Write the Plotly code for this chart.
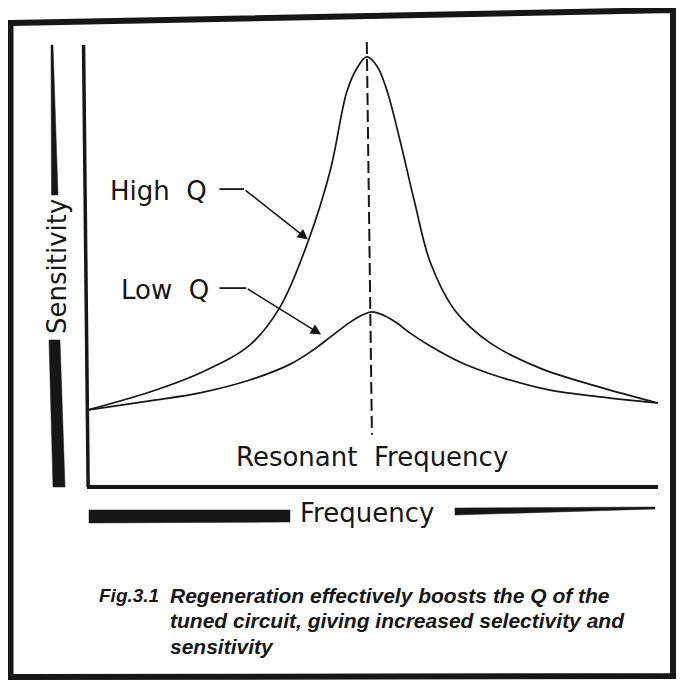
import plotly.graph_objects as go

# ---- data (frequency in arbitrary units 0-100, sensitivity 0-100) ----
high_q_freq = [0, 11.0, 19.8, 28.5, 33.8, 38.7, 42.6, 45.5, 47.3, 49.0, 50.8, 52.5,
               54.8, 57.4, 60.1, 64.4, 70.6, 79.3, 89.8, 100]
high_q_sens = [17.4, 21.5, 25.8, 32.1, 40.7, 55.5, 71.6, 89.4, 94.8, 97.3, 95.2, 89.8,
               78.5, 64.3, 50.9, 40.0, 32.6, 26.9, 22.6, 19.0]

low_q_freq = [0, 11.0, 19.8, 28.5, 35.6, 39.6, 42.6, 46.1, 48.2, 49.9, 52.2, 54.3,
              56.6, 60.1, 65.3, 72.3, 81.1, 89.8, 100]
low_q_sens = [17.4, 19.5, 21.3, 24.2, 27.8, 31.0, 33.9, 37.3, 38.9, 39.6, 38.7, 37.1,
              34.8, 31.9, 28.3, 24.9, 21.9, 20.4, 19.0]

resonant_freq = [49.0, 49.9]      # dashed marker (top, bottom) - scan slightly tilted
resonant_span = [100.7, 11.8]

# page body has an 8px margin; the visible figure area is 668 x 675
OFF = 8
W, H = 668, 675
INK = "#161616"
FONT = "DejaVu Sans"

# screen-pixel scale of the data axes
X0PX, XSCALE = 87, 5.71
Y0PX, YSCALE = 487, 4.42


def px(x):
    return (x - OFF) / W


def py(y):
    return 1 - (y - OFF) / H


fig = go.Figure()

fig.add_trace(go.Scatter(x=high_q_freq, y=high_q_sens, mode="lines",
                         line=dict(color=INK, width=1.7, shape="spline", smoothing=1.0),
                         hoverinfo="skip", showlegend=False))
fig.add_trace(go.Scatter(x=low_q_freq, y=low_q_sens, mode="lines",
                         line=dict(color=INK, width=1.7, shape="spline", smoothing=1.0),
                         hoverinfo="skip", showlegend=False))

shapes = []
# axes
shapes.append(dict(type="line", xref="x", yref="y", x0=0, y0=0, x1=100, y1=0,
                   line=dict(color=INK, width=4)))
shapes.append(dict(type="line", xref="x", yref="y", x0=-0.6, y0=100, x1=0.2, y1=0,
                   line=dict(color=INK, width=3.5)))
# resonant frequency dashed line
shapes.append(dict(type="line", xref="x", yref="y",
                   x0=resonant_freq[0], y0=resonant_span[0],
                   x1=resonant_freq[1], y1=resonant_span[1],
                   line=dict(color=INK, width=2, dash="12px,5px")))
# arrow stubs
shapes.append(dict(type="line", xref="x", yref="y", x0=23.2, y0=67.4, x1=27.5, y1=67.4,
                   line=dict(color=INK, width=1.8)))
shapes.append(dict(type="line", xref="x", yref="y", x0=23.2, y0=45.0, x1=27.9, y1=45.0,
                   line=dict(color=INK, width=1.8)))


def poly(pts, close=True):
    s = "M " + " L ".join(f"{px(a):.5f},{py(b):.5f}" for a, b in pts)
    return s + (" Z" if close else "")


# outer frame
shapes.append(dict(type="path", xref="paper", yref="paper",
                   path=poly([(10.5, 23), (673, 10), (673, 676), (10.5, 677)]),
                   line=dict(color=INK, width=6)))
# Frequency label bars
shapes.append(dict(type="path", xref="paper", yref="paper",
                   path=poly([(89, 510), (290, 510), (290, 522), (89, 523)]),
                   fillcolor=INK, line=dict(color=INK, width=0.5)))
shapes.append(dict(type="path", xref="paper", yref="paper",
                   path=poly([(455, 508), (655, 507), (655, 509), (455, 515)]),
                   fillcolor=INK, line=dict(color=INK, width=0.5)))
# Sensitivity label bars
shapes.append(dict(type="path", xref="paper", yref="paper",
                   path=poly([(51, 45), (53, 45), (58, 195), (51.5, 195)]),
                   fillcolor=INK, line=dict(color=INK, width=0.5)))
shapes.append(dict(type="path", xref="paper", yref="paper",
                   path=poly([(49, 340), (60, 340), (65, 487), (53, 487)]),
                   fillcolor=INK, line=dict(color=INK, width=0.5)))

ann = []
lab = dict(family=FONT, size=26, color=INK)


def label(text, x, y, **kw):
    d = dict(text=text, x=px(x), y=py(y), xref="paper", yref="paper",
             xanchor="center", yanchor="middle", showarrow=False, font=lab)
    d.update(kw)
    ann.append(d)


label("High  Q", 158, 191)
label("Low  Q", 165, 290)
label("Resonant  Frequency", 372, 457)
label("Frequency", 367, 513)
label("Sensitivity", 57, 267, textangle=-90)

# arrows
ann.append(dict(text="", x=38.7, y=56.0, xref="x", yref="y", ax=27.5, ay=67.4,
                axref="x", ayref="y", showarrow=True, arrowhead=2, arrowsize=1.3,
                arrowwidth=1.6, arrowcolor=INK))
ann.append(dict(text="", x=41.0, y=34.5, xref="x", yref="y", ax=27.9, ay=45.0,
                axref="x", ayref="y", showarrow=True, arrowhead=2, arrowsize=1.3,
                arrowwidth=1.6, arrowcolor=INK))

cap = dict(family="Liberation Sans Narrow, Liberation Sans, Arial", size=21, color=INK)
ann.append(dict(text="<b><i>Fig.3.1</i></b>", x=px(97), y=py(595), xref="paper", yref="paper",
                xanchor="left", yanchor="middle", showarrow=False,
                font=dict(cap, size=19)))
cap_lines = ["Regeneration effectively boosts the Q of the",
             "tuned circuit, giving increased selectivity and",
             "sensitivity"]
for i, t in enumerate(cap_lines):
    ann.append(dict(text=f"<b><i>{t}</i></b>", x=px(168), y=py(595 + 25.5 * i),
                    xref="paper", yref="paper", xanchor="left", yanchor="middle",
                    showarrow=False, font=cap))

fig.update_layout(
    width=W, height=H,
    margin=dict(l=0, r=0, t=0, b=0),
    paper_bgcolor="white", plot_bgcolor="white",
    xaxis=dict(range=[(OFF - X0PX) / XSCALE, (OFF + W - X0PX) / XSCALE], domain=[0, 1],
               visible=False, fixedrange=True),
    yaxis=dict(range=[(Y0PX - OFF - H) / YSCALE, (Y0PX - OFF) / YSCALE], domain=[0, 1],
               visible=False, fixedrange=True),
    shapes=shapes, annotations=ann,
)

fig.write_html("out.html")
